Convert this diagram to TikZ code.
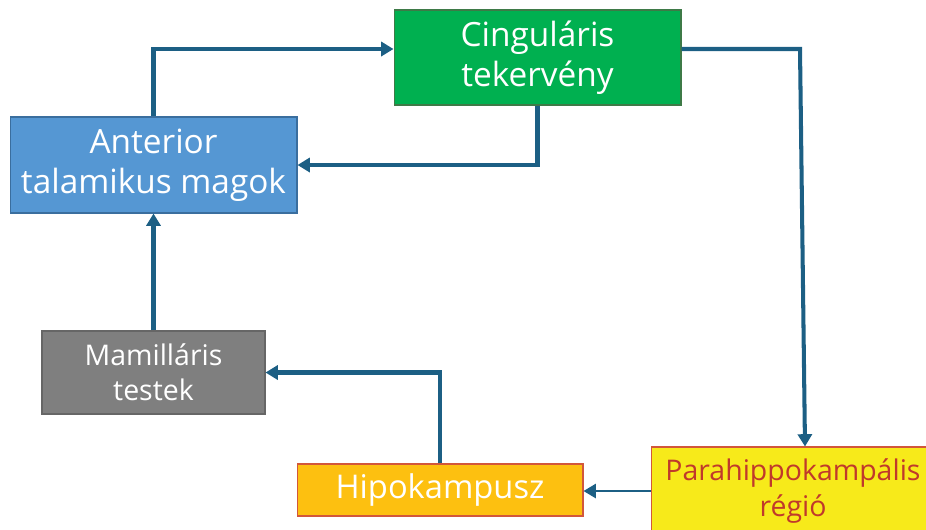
\documentclass[tikz,border=0pt]{standalone}
\usepackage{fontspec}
\setmainfont{Open Sans}
\usepackage{xcolor}
\usetikzlibrary{arrows.meta,positioning,calc}
\definecolor{PCGreen}{HTML}{00B050}
\definecolor{PCGreenLine}{HTML}{3E7A47}
\definecolor{PCBlue}{HTML}{5597D3}
\definecolor{PCBlueLine}{HTML}{3A6E9E}
\definecolor{PCGray}{HTML}{7F7F7F}
\definecolor{PCOrange}{HTML}{FDC010}
\definecolor{PCYellow}{HTML}{F7EA1A}
\definecolor{PCRed}{HTML}{D2573A}
\definecolor{PCText}{HTML}{C0392B}
\definecolor{PCArrow}{HTML}{1C5F84}

\begin{document}
\begin{tikzpicture}[x=0.02cm,y=-0.02cm,>={Triangle[length=7pt,width=8pt]},
  box/.style={draw,line width=0.6pt,align=center,inner sep=0pt,text=white,font=\fontsize{19}{23}\selectfont},
  link/.style={->,draw=PCArrow,line width=2.3pt}]
\useasboundingbox (0,0) rectangle (926,529);
\node[box,draw=PCGreenLine,fill=PCGreen,minimum width=5.74cm,minimum height=1.9cm] (cing) at (537.5,57.5) {Cinguláris\\tekervény};
\node[box,draw=PCBlueLine,fill=PCBlue,minimum width=5.74cm,minimum height=1.92cm] (ant) at (153.5,165) {Anterior\\talamikus magok};
\node[box,draw=PCGray!80!black,fill=PCGray,minimum width=4.46cm,minimum height=1.66cm,font=\fontsize{16.2}{20}\selectfont] (mam) at (153.5,372.5) {Mamilláris\\testek};
\node[box,draw=PCRed,fill=PCOrange,minimum width=5.72cm,minimum height=1.04cm,font=\fontsize{18.6}{22}\selectfont] (hipo) at (440,490) {Hipokampusz};
\node[box,draw=PCRed,fill=PCYellow,text=PCText,minimum width=5.68cm,minimum height=1.76cm,font=\fontsize{16.2}{21}\selectfont] (para) at (793,491) {Parahippokampális\\régió};
\coordinate (felso) at (0,49);
\coordinate (sarok) at (800,49);
\coordinate (cel) at (805,0);
% kör
\draw[link] (ant.north) |- (cing.west |- felso);
\draw[link] (cing.south) |- (ant.east);
\draw[link] (mam.north) -- (ant.south);
\draw[link] (hipo.north) |- (mam.east);
\draw[->,draw=PCArrow,line width=1.3pt] (para.west) -- (para.west -| hipo.east);
\draw[link] (cing.east |- felso) -- (sarok) -- (para.north -| cel);
\end{tikzpicture}
\end{document}
